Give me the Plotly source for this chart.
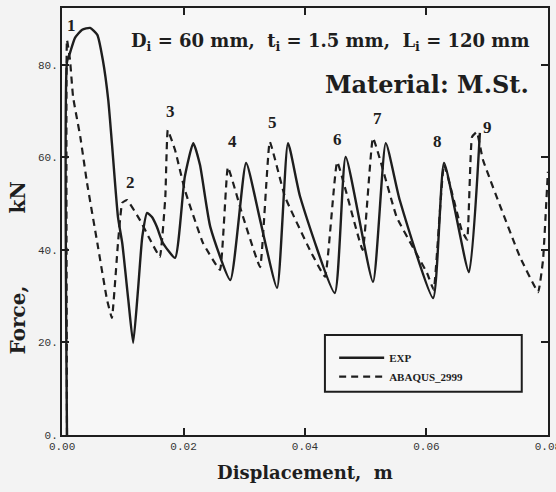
import plotly.graph_objects as go

# ---- data ----
exp_disp = [0.0008, 0.0008, 0.0013, 0.0021, 0.0033, 0.0046, 0.0058, 0.0067, 0.0076, 0.0082,
            0.0092, 0.0099, 0.0109, 0.0117, 0.0125, 0.0132, 0.0140, 0.0148, 0.0156, 0.0166,
            0.0186, 0.0202, 0.0216, 0.0227, 0.0244, 0.0277, 0.0303, 0.0326, 0.0354, 0.0372,
            0.0392, 0.0449, 0.0467, 0.0512, 0.0533, 0.0556, 0.0611, 0.0629, 0.0670, 0.0688]
exp_force = [0.0, 80.6, 82.6, 85.8, 87.6, 88.0, 86.5, 81.1, 72.4, 63.1,
             47.1, 41.5, 29.2, 19.9, 31.4, 42.8, 48.0, 47.1, 45.0, 41.5,
             38.3, 55.8, 63.1, 58.4, 45.0, 33.5, 58.8, 46.5, 31.8, 63.1,
             51.5, 30.7, 60.1, 33.1, 63.1, 50.8, 29.6, 58.8, 35.2, 65.3]

abq_disp = [0.0008, 0.0008, 0.0013, 0.0018, 0.0030, 0.0041, 0.0058, 0.0074, 0.0082, 0.0092,
            0.0099, 0.0107, 0.0128, 0.0145, 0.0161, 0.0170, 0.0174, 0.0186, 0.0202, 0.0232,
            0.0260, 0.0273, 0.0296, 0.0326, 0.0342, 0.0367, 0.0408, 0.0433, 0.0453, 0.0495,
            0.0512, 0.0551, 0.0601, 0.0612, 0.0629, 0.0658, 0.0667, 0.0675, 0.0683, 0.0693,
            0.0754, 0.0784, 0.0792, 0.0800]
abq_force = [0.0, 85.4, 81.1, 73.1, 64.4, 54.5, 41.5, 29.2, 25.3, 41.5,
             50.2, 50.8, 46.5, 42.2, 38.5, 51.5, 65.9, 61.6, 53.0, 41.5,
             35.7, 57.9, 48.0, 36.3, 63.4, 51.5, 40.0, 34.2, 59.0, 40.0,
             64.2, 47.1, 35.0, 31.4, 58.4, 44.3, 42.2, 64.4, 65.5, 59.5,
             38.5, 30.9, 37.8, 56.9]

peak_labels = ["1", "2", "3", "4", "5", "6", "7", "8", "9"]
peak_label_x = [0.0016, 0.0112, 0.0178, 0.0280, 0.0346, 0.0454, 0.0519, 0.0619, 0.0700]
peak_label_y = [88.5, 54.5, 70.0, 63.5, 67.5, 63.8, 68.5, 63.5, 66.5]

x_tickvals = [0.0, 0.02, 0.04, 0.06, 0.08]
x_ticktext = ["0.00", "0.02", "0.04", "0.06", "0.08"]
y_tickvals = [0, 20, 40, 60, 80]
y_ticktext = ["0.", "20.", "40.", "60.", "80."]

INK = "#1e1e1e"
SERIF = "Liberation Serif, Times New Roman, serif"
WIDE = "DejaVu Serif, serif"
MONO = "Liberation Mono, Courier New, monospace"

fig = go.Figure()
fig.add_trace(go.Scatter(x=exp_disp, y=exp_force, mode="lines", name="<b>EXP</b>",
                         line=dict(color=INK, width=2.4, shape="spline", smoothing=0.5)))
fig.add_trace(go.Scatter(x=abq_disp, y=abq_force, mode="lines", name="<b>ABAQUS_2999</b>",
                         line=dict(color=INK, width=2.2, dash="7px,5px",
                                   shape="spline", smoothing=0.3)))

for t, x, y in zip(peak_labels, peak_label_x, peak_label_y):
    fig.add_annotation(x=x, y=y, text=f"<b>{t}</b>", showarrow=False, xref="x", yref="y",
                       font=dict(family=SERIF, size=17, color=INK))

fig.add_annotation(xref="paper", yref="paper", x=0.966, y=0.92, xanchor="right", yanchor="middle",
                   text="<b>D<sub>i</sub> = 60 mm,  t<sub>i</sub> = 1.5 mm,  L<sub>i</sub> = 120 mm</b>",
                   showarrow=False, font=dict(family=WIDE, size=18, color=INK))
fig.add_annotation(xref="paper", yref="paper", x=0.966, y=0.82, xanchor="right", yanchor="middle",
                   text="<b>Material: M.St.</b>",
                   showarrow=False, font=dict(family=WIDE, size=24, color=INK))

# y-axis title, split like the reference ("Force," low, "kN" higher)
fig.add_annotation(xref="paper", yref="paper", x=-0.09, y=0.269, xanchor="center", yanchor="middle",
                   text="<b>Force,</b>", textangle=-90, showarrow=False,
                   font=dict(family=WIDE, size=20, color=INK))
fig.add_annotation(xref="paper", yref="paper", x=-0.09, y=0.557, xanchor="center", yanchor="middle",
                   text="<b>kN</b>", textangle=-90, showarrow=False,
                   font=dict(family=WIDE, size=20, color=INK))

# legend frame
fig.add_shape(type="rect", xref="paper", yref="paper", x0=0.541, x1=0.946, y0=0.101, y1=0.234,
              line=dict(color=INK, width=2), fillcolor="rgba(0,0,0,0)")

fig.update_layout(
    width=556, height=492,
    margin=dict(l=62, r=8, t=8, b=57, autoexpand=False),
    paper_bgcolor="#f3f3f3", plot_bgcolor="#f7f7f7",
    showlegend=True,
    legend=dict(x=0.56, y=0.215, xanchor="left", yanchor="top",
                bgcolor="rgba(0,0,0,0)", borderwidth=0,
                font=dict(family=SERIF, size=11, color=INK),
                itemwidth=45, tracegroupgap=0),
    xaxis=dict(range=[-0.00002, 0.08002], tickvals=x_tickvals, ticktext=x_ticktext,
               ticks="inside", ticklen=7, tickwidth=1.5, tickcolor=INK,
               showline=True, linecolor=INK, linewidth=2, mirror="ticks",
               showgrid=False, zeroline=False, ticklabeloverflow="allow", automargin=False,
               tickfont=dict(family=MONO, size=11, color="#333"),
               title=dict(text="<b>Displacement,  m</b>", standoff=14,
                          font=dict(family=WIDE, size=18, color=INK))),
    yaxis=dict(range=[0, 92.3], tickvals=y_tickvals, ticktext=y_ticktext,
               ticks="inside", ticklen=7, tickwidth=1.5, tickcolor=INK,
               showline=True, linecolor=INK, linewidth=2, mirror="ticks",
               showgrid=False, zeroline=False, automargin=False,
               tickfont=dict(family=MONO, size=11, color="#333")),
)

fig.write_html("out.html")
